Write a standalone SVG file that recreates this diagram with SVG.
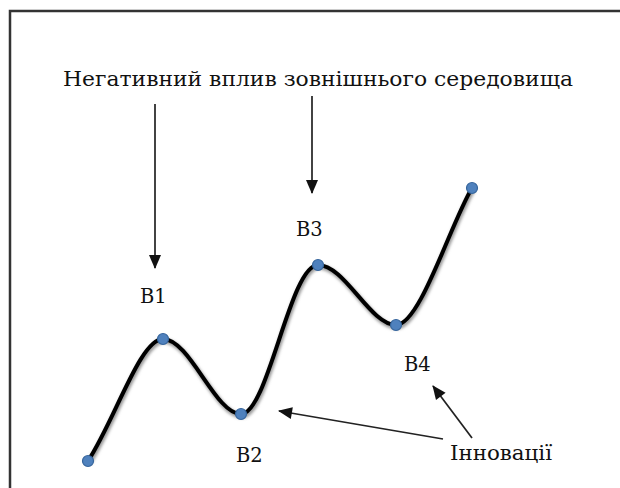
<svg xmlns="http://www.w3.org/2000/svg" width="620" height="488" viewBox="0 0 620 488">
<style>
.lbl{font-family:"DejaVu Serif","Liberation Serif",serif;font-size:19.5px;fill:#111}
.arr{stroke:#222;stroke-width:1.7;fill:none;marker-end:url(#ah)}
.dot{fill:#4f81bd;stroke:#36659c;stroke-width:1.2}
</style>
<defs>
<marker id="ah" viewBox="0 0 14 12" refX="13" refY="6" markerWidth="14" markerHeight="12" markerUnits="userSpaceOnUse" orient="auto" overflow="visible">
<path d="M0,0 L14,6 L0,12 z" fill="#111"/>
</marker>
<filter id="sh" x="-10%" y="-10%" width="120%" height="120%">
<feGaussianBlur stdDeviation="1.5"/>
</filter>
</defs>
<rect width="620" height="488" fill="#fff"/>
<path d="M10,488 V11 H620" fill="none" stroke="#333" stroke-width="2.5"/>
<g id="title"><text class="lbl" x="63" y="86" textLength="510" lengthAdjust="spacingAndGlyphs">Негативний вплив зовнішнього середовища</text></g>
<g id="connectors">
<line class="arr" x1="155" y1="104" x2="155" y2="268"/>
<line class="arr" x1="312" y1="96" x2="312" y2="193"/>
<line class="arr" x1="443" y1="439" x2="279" y2="411"/>
<line class="arr" x1="472" y1="438" x2="433" y2="386"/>
</g>
<g id="curve">
<path d="M88,461 C115,420 140,339 163,339 C190,339 215,414 241,414 C268,414 290,265 318,265 C345,265 370,325 396,325 C420,325 450,225 472,188" fill="none" stroke="#999" stroke-width="5" filter="url(#sh)" transform="translate(1,2)"/>
<path d="M88,461 C115,420 140,339 163,339 C190,339 215,414 241,414 C268,414 290,265 318,265 C345,265 370,325 396,325 C420,325 450,225 472,188" fill="none" stroke="#000" stroke-width="4" stroke-linecap="round"/>
</g>
<g id="p0"><circle class="dot" cx="88" cy="461" r="5.5"/></g>
<g id="B1"><circle class="dot" cx="163" cy="339" r="5.5"/><text class="lbl" x="140" y="303">B1</text></g>
<g id="B2"><circle class="dot" cx="241" cy="414" r="5.5"/><text class="lbl" x="236" y="462">B2</text></g>
<g id="B3"><circle class="dot" cx="318" cy="265" r="5.5"/><text class="lbl" x="296" y="236">B3</text></g>
<g id="B4"><circle class="dot" cx="396" cy="325" r="5.5"/><text class="lbl" x="404" y="371">B4</text></g>
<g id="p5"><circle class="dot" cx="472" cy="188" r="5.5"/></g>
<g id="innov"><text class="lbl" x="450" y="460" textLength="102" lengthAdjust="spacingAndGlyphs">Інновації</text></g>
</svg>
